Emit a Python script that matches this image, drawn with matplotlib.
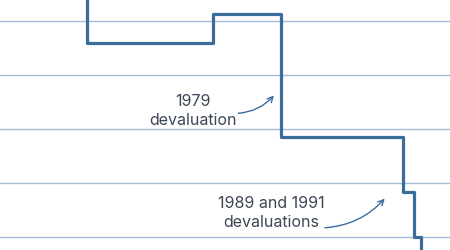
import matplotlib
matplotlib.use("Agg")
import matplotlib.pyplot as plt

# Step series (fractional years, index level)
dates = [1960.0, 1963.1, 1973.4, 1979.0, 1989.02, 1989.9, 1990.47, 1994.0]
values = [5.0, 3.61, 4.13, 1.87, 0.84, 0.0, -0.6, -0.6]
grid_levels = [0, 1, 2, 3, 4]

ann1_text = "1979\ndevaluation"
ann2_text = "1989 and 1991\ndevaluations"

line_color = "#3a6c9c"
grid_color = "#a3bdd8"
text_color = "#3c4756"

plt.rcParams['font.family'] = ['Inter', 'DejaVu Sans']

fig = plt.figure(figsize=(4.5, 2.5), dpi=100)
ax = fig.add_axes([0, 0, 1, 1])

for g in grid_levels:
    ax.axhline(g, color=grid_color, lw=1.0, zorder=1)

ax.plot(dates, values, drawstyle="steps-post", color=line_color, lw=2.3,
        solid_joinstyle="round", zorder=3)

ax.set_xlim(1955.97, 1992.85)
ax.set_ylim(-0.2315, 4.398)
ax.axis("off")

ax.annotate("", xy=(1978.42, 2.63), xytext=(1975.5, 2.30),
            arrowprops=dict(arrowstyle="->", color=line_color, lw=1.0,
                            connectionstyle="arc3,rad=0.2",
                            shrinkA=0, shrinkB=0))
ax.text(1971.75, 2.35, ann1_text, ha="center", va="center", fontsize=11.5,
        color=text_color, linespacing=1.33)

ax.annotate("", xy=(1987.5, 0.72), xytext=(1982.6, 0.18),
            arrowprops=dict(arrowstyle="->", color=line_color, lw=1.0,
                            connectionstyle="arc3,rad=0.2",
                            shrinkA=0, shrinkB=0))
ax.text(1978.22, 0.45, ann2_text, ha="center", va="center", fontsize=11.5,
        color=text_color, linespacing=1.33)

fig.savefig("out.png", dpi=100)
